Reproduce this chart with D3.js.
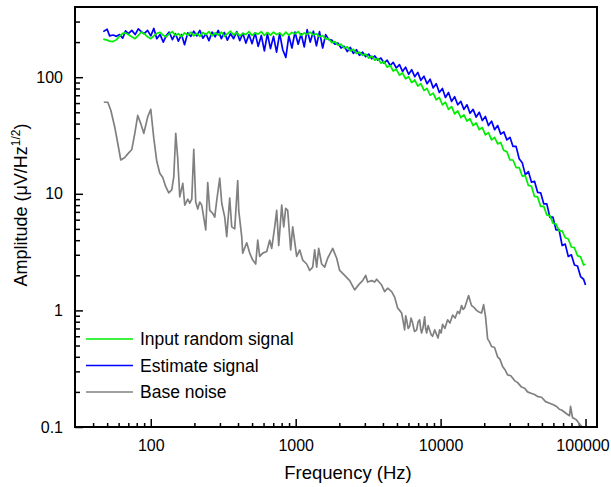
<!DOCTYPE html>
<html>
<head>
<meta charset="utf-8">
<script src="https://cdn.jsdelivr.net/npm/d3@7"></script>
<style>
  body { margin: 0; background: #fff; }
  text { font-family: "Liberation Sans", Arial, sans-serif; fill: #000; }
</style>
</head>
<body>
<div id="vis"></div>
<script>
// frequency grid shared by the input and estimate spectra (Hz)
const freq = [
  47, 50, 52, 55, 58, 61, 64, 67, 70, 74,
  78, 82, 86, 90, 95, 100, 105, 110, 116, 122,
  128, 134, 141, 148, 155, 163, 171, 180, 189, 198,
  208, 218, 229, 240, 252, 265, 278, 292, 307, 322,
  338, 355, 373, 392, 411, 432, 453, 476, 500, 525,
  551, 579, 608, 638, 670, 703, 738, 775, 814, 855,
  897, 942, 989, 1040, 1090, 1145, 1200, 1260, 1325, 1390,
  1460, 1535, 1610, 1690, 1775, 1865, 1960, 2055, 2160, 2270,
  2380, 2500, 2625, 2755, 2895, 3040, 3190, 3350, 3515, 3690,
  3875, 4070, 4275, 4490, 4710, 4950, 5200, 5460, 5730, 6015,
  6315, 6630, 6960, 7310, 7680, 8060, 8465, 8890, 9330, 9800,
  10290, 10800, 11340, 11910, 12500, 13130, 13790, 14480, 15200, 15960,
  16760, 17600, 18480, 19400, 20370, 21390, 22460, 23580, 24760, 26000,
  27300, 28660, 30100, 31600, 33180, 34840, 36580, 38410, 40330, 42350,
  44470, 46690, 49030, 51480, 54050, 56750, 59590, 62570, 65700, 68980,
  72430, 76050, 79860, 83850, 88040, 92440, 97000, 100000
];

const inputSignal = [
  212, 208, 204, 202, 210, 225, 238, 240, 232, 222,
  214, 228, 244, 236, 222, 214, 226, 238, 242, 228,
  222, 236, 246, 228, 236, 222, 240, 230, 244, 226,
  238, 224, 242, 232, 246, 226, 240, 230, 244, 224,
  236, 248, 230, 242, 226, 238, 232, 246, 228, 240,
  234, 246, 228, 242, 230, 244, 232, 240, 226, 244,
  230, 242, 236, 246, 228, 240, 232, 244, 230, 236,
  222, 228, 212, 214, 198, 202, 188, 192, 178, 182,
  168, 174, 160, 164, 154, 158, 146, 152, 140, 145,
  132, 136, 122, 126, 113, 117, 104, 109, 97, 101,
  90, 95, 84, 88, 77, 80, 70, 73, 64, 67,
  58, 61, 53, 56, 48.5, 51.5, 45, 47.5, 42, 44,
  38.5, 40.5, 35.5, 37, 32, 33.5, 29, 30.5, 26.8, 27.5,
  23.5, 23, 19.5, 19.5, 16.8, 16.8, 14.2, 14.3, 11.8, 11.6,
  9.5, 9.4, 7.8, 7.8, 6.6, 6.5, 5.6, 5.5, 4.8, 4.8,
  4.2, 4.1, 3.5, 3.45, 2.95, 2.88, 2.45, 2.5
];

const estimateSignal = [
  246, 258, 226, 230, 224, 232, 216, 250, 236, 252,
  232, 260, 246, 236, 252, 226, 262, 214, 232, 200,
  228, 244, 210, 236, 204, 232, 190, 240, 224, 248,
  226, 252, 216, 236, 206, 244, 222, 252, 214, 242,
  208, 236, 214, 246, 206, 238, 196, 232, 194, 240,
  184, 228, 168, 236, 176, 224, 164, 238, 172, 148,
  226, 178, 244, 192, 236, 182, 256, 200, 248, 186,
  246, 178, 232, 210, 208, 192, 196, 178, 184, 166,
  180, 160, 172, 154, 164, 150, 158, 144, 152, 140,
  146, 132, 140, 126, 134, 120, 128, 112, 122, 106,
  116, 101, 110, 94, 102, 88, 96, 81, 88, 74,
  80, 67, 74, 62, 68, 58, 62, 53, 58, 49,
  53, 45.5, 50, 42.5, 46, 38.5, 42, 35.5, 38.5, 32.5,
  34, 29, 30.5, 25.5, 25.5, 20, 18.5, 14.6, 15.5, 12.6,
  12.8, 10.3, 10.2, 8.2, 8.2, 6.3, 6.3, 4.9, 4.9, 3.6,
  3.7, 2.9, 3.0, 2.45, 2.4, 1.95, 1.85, 1.65
];

// base noise has its own frequency grid
const noiseFreq = [
  47.4, 50.5, 53, 56.5, 59.2, 62.1, 66.2, 69.4, 74, 77.6,
  81.3, 85.3, 89.5, 95.4, 100, 104.9, 110, 115.4, 121, 126.9,
  133.1, 139.6, 144.1, 148.7, 153.5, 158.5, 166.3, 171.6, 180, 185.8,
  191.8, 198, 204.3, 210.9, 217.7, 224.7, 239.5, 247.2, 255.3, 267.6,
  276.3, 285.3, 299.2, 308.8, 323.8, 334.3, 350.5, 361.9, 379.6, 398.1,
  404.5, 424.2, 430.9, 459.3, 481.7, 505.2, 529.8, 547, 564.6, 592.2,
  631, 661.8, 683.1, 716.5, 739.6, 763.5, 800.8, 826.6, 853.2, 880.7,
  923.7, 953.5, 1016, 1066, 1118, 1191, 1249, 1310, 1352, 1396,
  1441, 1511, 1585, 1662, 1800, 1918, 2011, 2177, 2358, 2552,
  2764, 2899, 3040, 3138, 3343, 3506, 3619, 3919, 4110, 4310,
  4593, 4817, 5051, 5214, 5383, 5520, 5646, 5740, 5830, 5970,
  6113, 6250, 6410, 6600, 6830, 7000, 7165, 7280, 7396, 7580,
  7758, 7880, 8008, 8200, 8398, 8600, 8808, 9100, 9385, 9600,
  9842, 10080, 10320, 10700, 11180, 11600, 12100, 12600, 13100, 13500,
  13960, 14300, 14640, 15100, 15600, 16000, 16360, 17000, 17720, 18400,
  19180, 19800, 20430, 21100, 21700, 22470, 23570, 24730, 25700, 26780,
  27800, 28990, 30500, 32380, 34000, 36190, 38000, 39810, 42000, 44490,
  47000, 49730, 53000, 56460, 60000, 63100, 66000, 68300, 71000, 73960,
  77580, 78820, 81370, 84000, 86690, 89000, 90920, 93000, 95350
];

const baseNoise = [
  61, 61, 52, 37, 27, 19.5, 20.5, 22, 24, 33,
  47, 40, 33, 46, 53, 30, 19, 15, 13.8, 11.5,
  10.2, 10.8, 14, 33, 20, 9.4, 12.3, 8, 9, 8.3,
  9, 24, 8.5, 7.4, 8.5, 8, 4.9, 12.5, 7.2, 6.8,
  6.3, 8.8, 13.6, 8.3, 6.3, 4.3, 9.2, 5.2, 5, 13,
  7.2, 4.3, 3.1, 3.8, 3.1, 2.7, 2.5, 4, 2.9, 3.1,
  3.2, 4, 3.4, 5.2, 7.2, 3.6, 8, 5.2, 7.5, 7.2,
  3.3, 5.2, 2.9, 3.3, 2.7, 2.5, 2.2, 2.35, 3.3, 2.35,
  3.4, 2.5, 2.35, 2.8, 3.4, 2.8, 2.2, 2.0, 1.8, 1.5,
  1.7, 1.8, 2.0, 1.75, 1.8, 1.75, 1.85, 1.65, 1.45, 1.55,
  1.45, 1.3, 1.05, 1.0, 0.95, 0.8, 0.68, 0.9, 0.83, 0.7,
  0.73, 0.86, 0.78, 0.66, 0.68, 0.8, 0.83, 0.7, 0.64, 0.72,
  0.88, 0.7, 0.64, 0.74, 0.68, 0.62, 0.6, 0.68, 0.62, 0.58,
  0.68, 0.64, 0.76, 0.7, 0.83, 0.78, 0.91, 0.86, 0.98, 0.94,
  1.1, 1.02, 1.05, 1.18, 1.34, 1.2, 1.1, 1.06, 1.0, 0.97,
  0.95, 1.12, 0.88, 0.57, 0.54, 0.49, 0.48, 0.40, 0.38, 0.33,
  0.31, 0.28, 0.275, 0.25, 0.24, 0.22, 0.215, 0.20, 0.195, 0.19,
  0.182, 0.18, 0.165, 0.16, 0.155, 0.15, 0.142, 0.14, 0.135, 0.13,
  0.125, 0.15, 0.12, 0.118, 0.115, 0.11, 0.105, 0.103, 0.1
];

const xTickValues = [100, 1000, 10000, 100000];
const yTickValues = [0.1, 1, 10, 100];
const legendLabels = ['Input random signal', 'Estimate signal', 'Base noise'];
const seriesColors = ['#00ee00', '#0000ff', '#808080'];

const width = 611, height = 487;
const plot = {left: 75, right: 597, top: 7, bottom: 427};

const svg = d3.select('#vis')
  .append('svg')
  .attr('width', width)
  .attr('height', height);

const x = d3.scaleLog().domain([30, 120000]).range([plot.left, plot.right]);
const y = d3.scaleLog().domain([0.1, 400]).range([plot.bottom, plot.top]);

// minor ticks 2..9 of every decade inside the domain
const minorX = [], minorY = [];
for (const d of [10, 100, 1000, 10000]) {
  for (let k = 2; k <= 9; k++) if (d * k > 30) minorX.push(d * k);
}
for (const d of [0.1, 1, 10, 100]) {
  for (let k = 2; k <= 9; k++) if (d * k < 400) minorY.push(d * k);
}

// x axis (ticks point inward)
svg.append('g')
  .attr('transform', `translate(0,${plot.bottom})`)
  .call(d3.axisBottom(x).tickValues(minorX).tickSize(-4).tickSizeOuter(0).tickFormat(''))
  .call(g => g.select('.domain').remove());

svg.append('g')
  .attr('class', 'x-axis')
  .attr('transform', `translate(0,${plot.bottom})`)
  .call(d3.axisBottom(x).tickValues(xTickValues).tickSize(-8).tickSizeOuter(0)
    .tickPadding(13).tickFormat(d3.format('d')))
  .call(g => g.select('.domain').remove());

// last label sits against the right edge
svg.selectAll('.x-axis .tick text')
  .filter(d => d === 100000)
  .attr('dx', -3);

svg.append('g')
  .attr('transform', `translate(${plot.left},0)`)
  .call(d3.axisLeft(y).tickValues(minorY).tickSize(-5).tickSizeOuter(0).tickFormat(''))
  .call(g => g.select('.domain').remove());

svg.append('g')
  .attr('class', 'y-axis')
  .attr('transform', `translate(${plot.left},0)`)
  .call(d3.axisLeft(y).tickValues(yTickValues).tickSize(-8).tickSizeOuter(0)
    .tickPadding(12).tickFormat(d => d < 1 ? '0.1' : d3.format('d')(d)))
  .call(g => g.select('.domain').remove());

svg.selectAll('.tick line').attr('stroke', '#000').attr('stroke-width', 1.5);
svg.selectAll('.x-axis text, .y-axis text')
  .style('font-family', '"Liberation Sans", Arial, sans-serif')
  .style('font-size', '16px')
  .attr('fill', '#000');

// curves
const line = d3.line()
  .x(d => x(d[0]))
  .y(d => y(d[1]));

const series = [
  {pts: d3.zip(noiseFreq, baseNoise), color: seriesColors[2]},
  {pts: d3.zip(freq, estimateSignal), color: seriesColors[1]},
  {pts: d3.zip(freq, inputSignal), color: seriesColors[0]}
];

svg.selectAll('path.curve')
  .data(series)
  .enter()
  .append('path')
  .attr('class', 'curve')
  .attr('d', d => line(d.pts))
  .attr('fill', 'none')
  .attr('stroke', d => d.color)
  .attr('stroke-width', 1.7)
  .attr('stroke-linejoin', 'round');

// frame
svg.append('rect')
  .attr('x', plot.left)
  .attr('y', plot.top)
  .attr('width', plot.right - plot.left)
  .attr('height', plot.bottom - plot.top)
  .attr('fill', 'none')
  .attr('stroke', '#000')
  .attr('stroke-width', 2);

// legend
const legend = svg.selectAll('g.legend')
  .data(legendLabels)
  .enter()
  .append('g')
  .attr('class', 'legend')
  .attr('transform', (d, i) => `translate(86,${339 + i * 26.5})`);

legend.append('line')
  .attr('x1', 0).attr('x2', 47)
  .attr('stroke', (d, i) => seriesColors[i])
  .attr('stroke-width', 1.5);

legend.append('text')
  .attr('x', 54)
  .attr('dy', '0.36em')
  .style('font-size', '17.5px')
  .text(d => d);

// axis titles
svg.append('text')
  .attr('x', 348)
  .attr('y', 479)
  .style('text-anchor', 'middle')
  .style('font-size', '18.5px')
  .text('Frequency (Hz)');

const yTitle = svg.append('text')
  .attr('transform', 'translate(27,205) rotate(-90)')
  .style('text-anchor', 'middle')
  .style('font-size', '18px');
yTitle.append('tspan').text('Amplitude (\u03BCV/Hz');
yTitle.append('tspan').attr('dy', -7).style('font-size', '12px').text('1/2');
yTitle.append('tspan').attr('dy', 7).text(')');
</script>
</body>
</html>
